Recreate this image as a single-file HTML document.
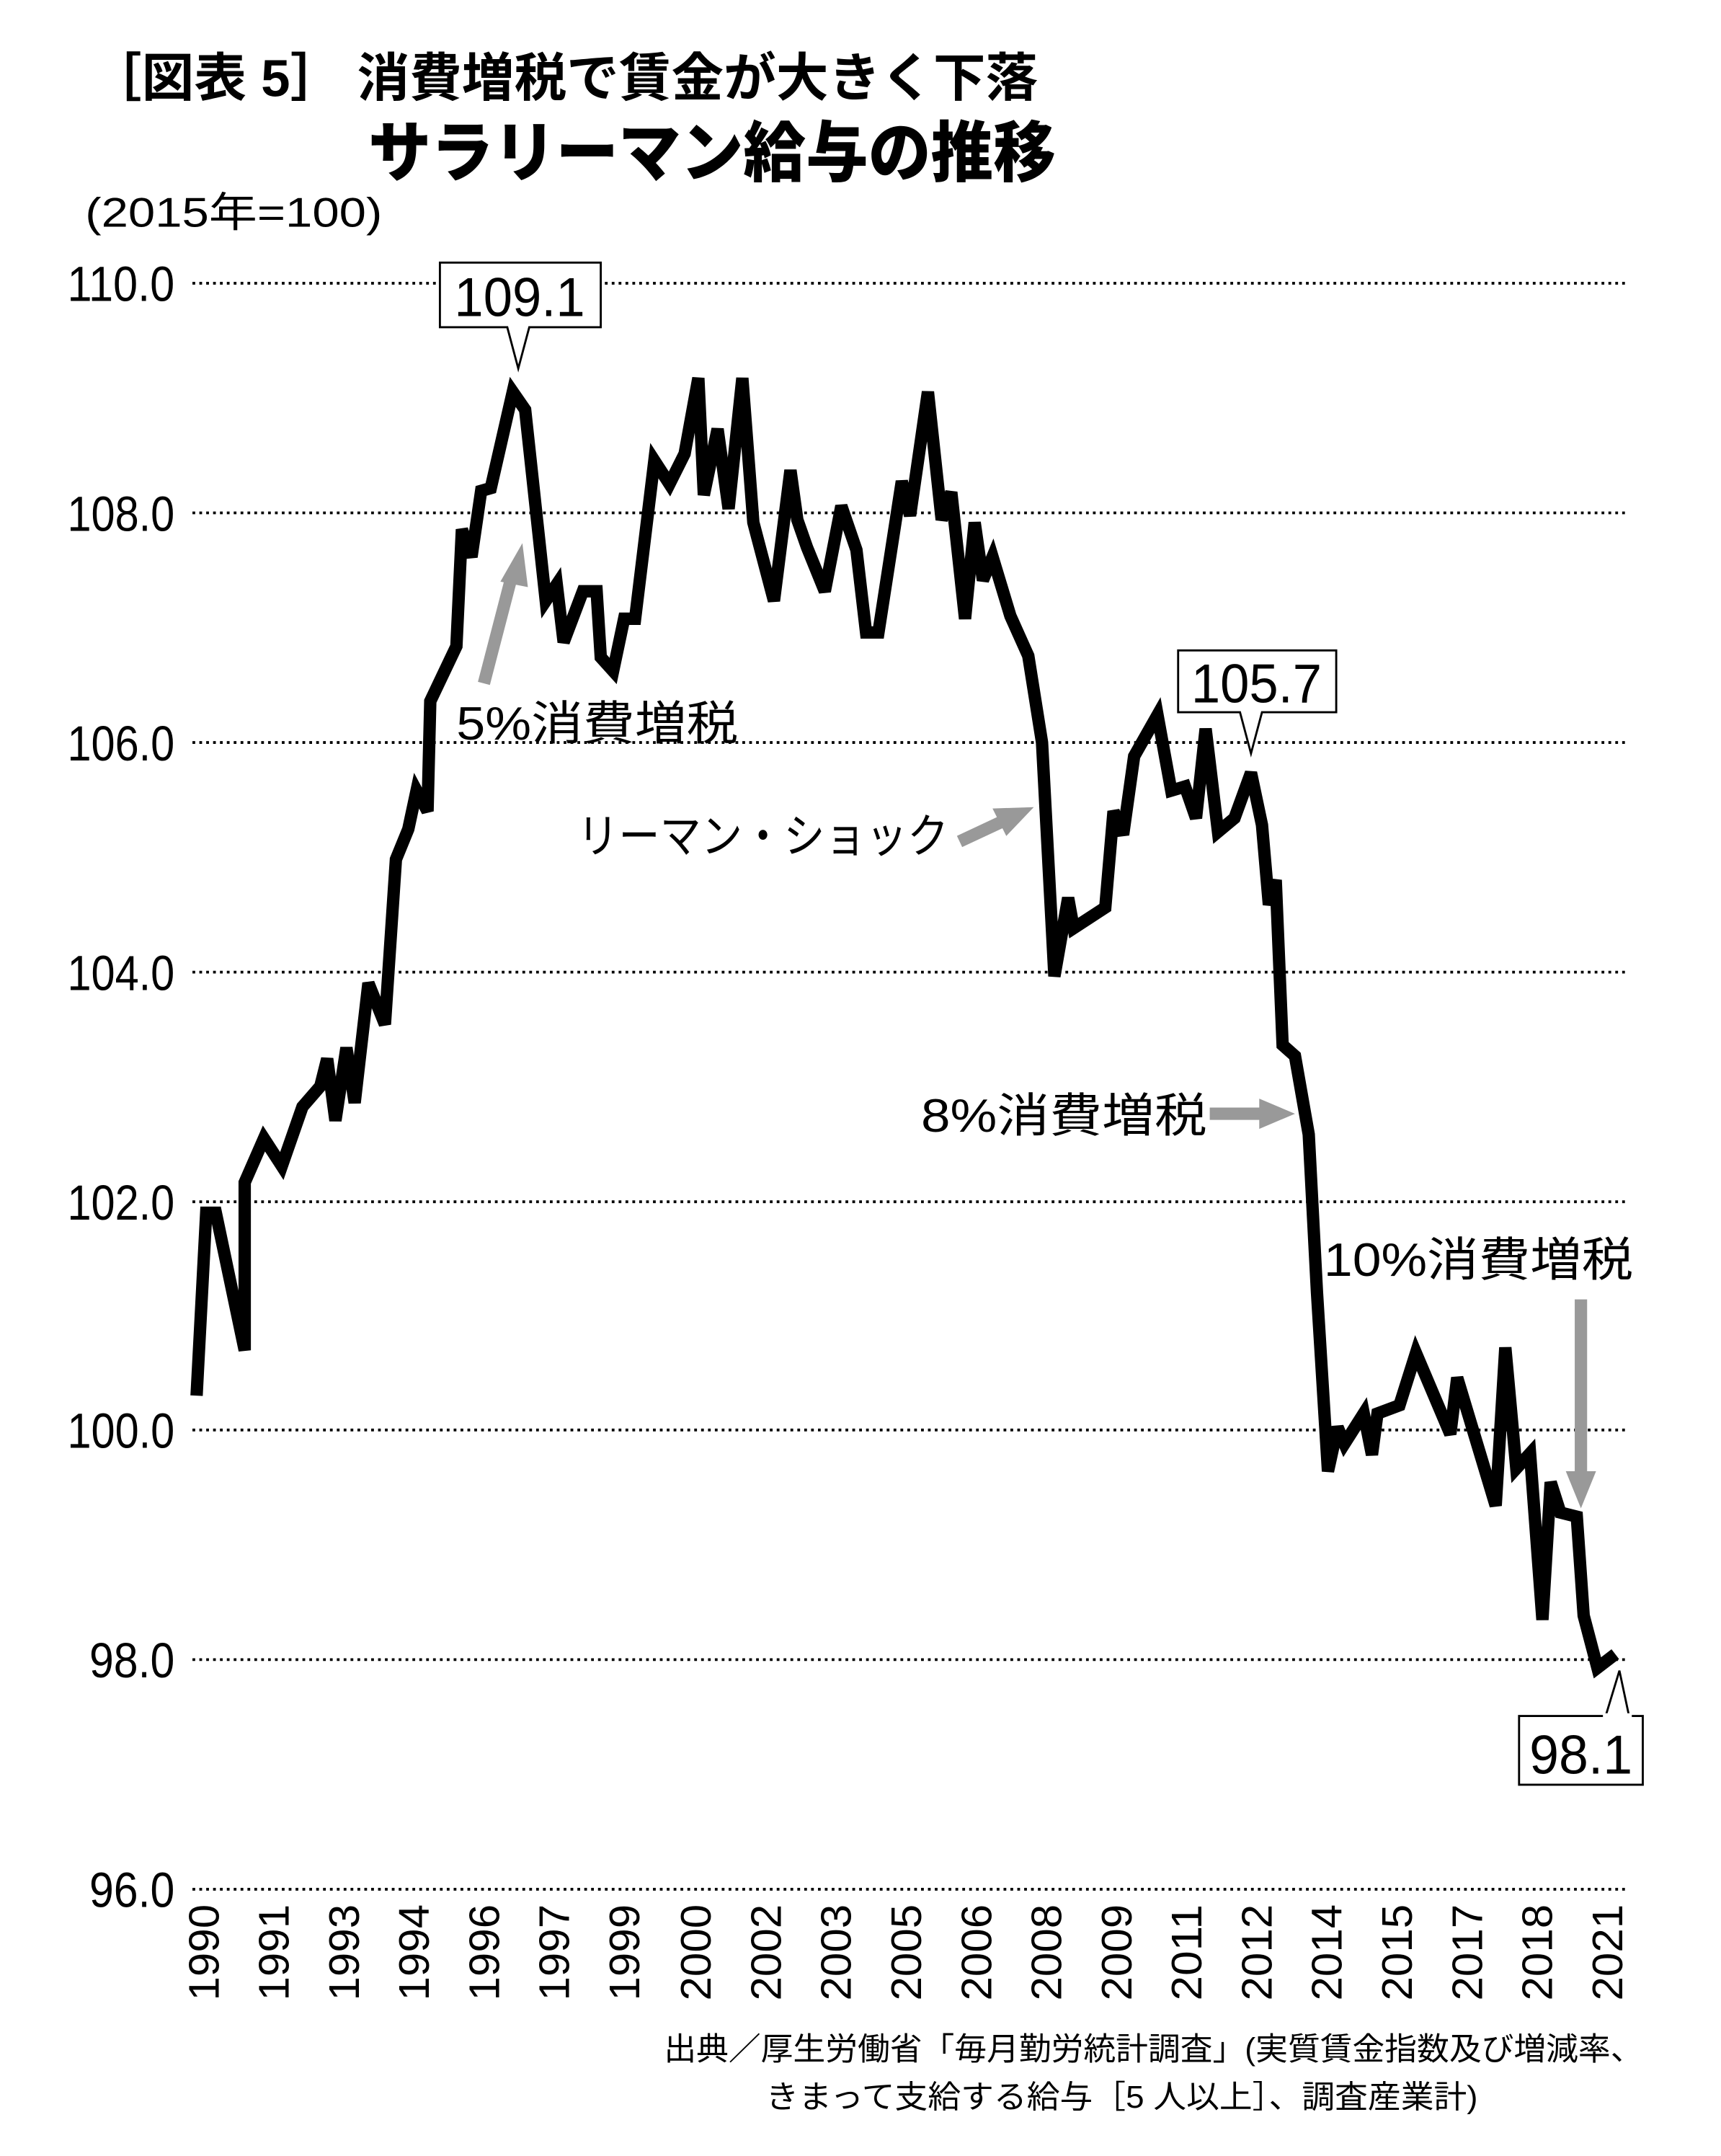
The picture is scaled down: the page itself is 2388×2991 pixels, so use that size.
<!DOCTYPE html>
<html><head><meta charset="utf-8"><style>html,body{margin:0;padding:0;background:#fff}svg{display:block}</style></head>
<body>
<svg xmlns="http://www.w3.org/2000/svg" width="2388" height="2991" viewBox="0 0 1240 1553.1" preserveAspectRatio="none" font-family="'Liberation Sans','Noto Sans CJK JP',sans-serif">
<rect width="1240" height="1553.1" fill="#fff"/>
<g transform="scale(0.9905)">
<text x="65" y="70" font-size="38" font-weight="bold" textLength="690" lengthAdjust="spacingAndGlyphs">［図表 5］ 消費増税で賃金が大きく下落</text>
<text x="268" y="128" font-size="48" font-weight="900" textLength="500" lengthAdjust="spacingAndGlyphs">サラリーマン給与の推移</text>
<text x="62" y="165" font-size="30" textLength="216" lengthAdjust="spacingAndGlyphs">(2015年=100)</text>
<g stroke="#000" stroke-width="2" stroke-dasharray="2 3">
<line x1="140" y1="206" x2="1185" y2="206"/><line x1="140" y1="373" x2="1185" y2="373"/><line x1="140" y1="540" x2="1185" y2="540"/><line x1="140" y1="707" x2="1185" y2="707"/><line x1="140" y1="874" x2="1185" y2="874"/><line x1="140" y1="1040" x2="1185" y2="1040"/><line x1="140" y1="1207" x2="1185" y2="1207"/><line x1="140" y1="1374" x2="1185" y2="1374"/>
</g>
<g font-size="36" text-anchor="end">
<text x="127" y="219" textLength="78" lengthAdjust="spacingAndGlyphs">110.0</text>
<text x="127" y="386" textLength="78" lengthAdjust="spacingAndGlyphs">108.0</text>
<text x="127" y="553" textLength="78" lengthAdjust="spacingAndGlyphs">106.0</text>
<text x="127" y="720" textLength="78" lengthAdjust="spacingAndGlyphs">104.0</text>
<text x="127" y="887" textLength="78" lengthAdjust="spacingAndGlyphs">102.0</text>
<text x="127" y="1053" textLength="78" lengthAdjust="spacingAndGlyphs">100.0</text>
<text x="127" y="1220" textLength="62" lengthAdjust="spacingAndGlyphs">98.0</text>
<text x="127" y="1387" textLength="62" lengthAdjust="spacingAndGlyphs">96.0</text>
</g>
<g font-size="31" text-anchor="end">
<text transform="translate(159,1385) rotate(-90)" textLength="70" lengthAdjust="spacingAndGlyphs">1990</text>
<text transform="translate(210,1385) rotate(-90)" textLength="70" lengthAdjust="spacingAndGlyphs">1991</text>
<text transform="translate(261,1385) rotate(-90)" textLength="70" lengthAdjust="spacingAndGlyphs">1993</text>
<text transform="translate(312,1385) rotate(-90)" textLength="70" lengthAdjust="spacingAndGlyphs">1994</text>
<text transform="translate(363,1385) rotate(-90)" textLength="70" lengthAdjust="spacingAndGlyphs">1996</text>
<text transform="translate(414,1385) rotate(-90)" textLength="70" lengthAdjust="spacingAndGlyphs">1997</text>
<text transform="translate(465,1385) rotate(-90)" textLength="70" lengthAdjust="spacingAndGlyphs">1999</text>
<text transform="translate(517,1385) rotate(-90)" textLength="70" lengthAdjust="spacingAndGlyphs">2000</text>
<text transform="translate(568,1385) rotate(-90)" textLength="70" lengthAdjust="spacingAndGlyphs">2002</text>
<text transform="translate(619,1385) rotate(-90)" textLength="70" lengthAdjust="spacingAndGlyphs">2003</text>
<text transform="translate(670,1385) rotate(-90)" textLength="70" lengthAdjust="spacingAndGlyphs">2005</text>
<text transform="translate(721,1385) rotate(-90)" textLength="70" lengthAdjust="spacingAndGlyphs">2006</text>
<text transform="translate(772,1385) rotate(-90)" textLength="70" lengthAdjust="spacingAndGlyphs">2008</text>
<text transform="translate(823,1385) rotate(-90)" textLength="70" lengthAdjust="spacingAndGlyphs">2009</text>
<text transform="translate(874,1385) rotate(-90)" textLength="70" lengthAdjust="spacingAndGlyphs">2011</text>
<text transform="translate(925,1385) rotate(-90)" textLength="70" lengthAdjust="spacingAndGlyphs">2012</text>
<text transform="translate(976,1385) rotate(-90)" textLength="70" lengthAdjust="spacingAndGlyphs">2014</text>
<text transform="translate(1027,1385) rotate(-90)" textLength="70" lengthAdjust="spacingAndGlyphs">2015</text>
<text transform="translate(1078,1385) rotate(-90)" textLength="70" lengthAdjust="spacingAndGlyphs">2017</text>
<text transform="translate(1129,1385) rotate(-90)" textLength="70" lengthAdjust="spacingAndGlyphs">2018</text>
<text transform="translate(1180,1385) rotate(-90)" textLength="70" lengthAdjust="spacingAndGlyphs">2021</text>
</g>
<polyline fill="none" stroke="#000" stroke-width="9" stroke-linejoin="miter" stroke-miterlimit="3" points="143,1015 150,882 157,882 178,982 178,860 192,828 205,848 220,805 233,790 238,770 244,815 252,762 258,802 268,715 280,745 288,625 297,603 303,575 311,590 313,510 332,470 336,385 343,405 350,357 357,355 373,285 382,298 397,437 405,425 410,467 424,430 434,430 437,478 446,488 454,450 462,450 476,335 487,352 498,330 508,275 512,360 522,312 530,370 540,275 548,380 563,437 575,342 580,378 587,398 600,430 612,368 623,400 630,460 639,460 656,350 662,375 675,285 685,378 692,358 702,450 709,380 715,422 722,405 735,448 748,477 758,540 767,710 777,653 781,675 804,660 810,590 817,607 825,550 842,520 852,575 862,572 870,595 877,530 886,605 898,595 910,562 918,600 923,658 928,640 933,760 942,768 952,825 958,940 966,1070 973,1038 978,1050 992,1028 998,1058 1002,1028 1018,1022 1030,984 1055,1043 1060,1002 1088,1095 1095,980 1103,1068 1113,1057 1122,1178 1128,1078 1135,1100 1147,1103 1152,1175 1162,1213 1175,1203"/>
<g fill="#fff" stroke="#000" stroke-width="1.5">
<path d="M320,191 H437 V238 H385 L377,268 L369,238 H320 Z"/>
<path d="M857,473 H972 V518 H918 L910,548 L902,518 H857 Z"/>
<path d="M1105,1248 H1195 V1298 H1105 Z M1168,1248 L1178,1215 L1185,1248"/>
</g>
<rect x="1166" y="1246" width="21" height="4" fill="#fff"/>
<g font-size="40" text-anchor="middle">
<text x="378" y="230" textLength="95" lengthAdjust="spacingAndGlyphs">109.1</text>
<text x="914" y="511" textLength="95" lengthAdjust="spacingAndGlyphs">105.7</text>
<text x="1150" y="1290" textLength="75" lengthAdjust="spacingAndGlyphs">98.1</text>
</g>
<g fill="#999" stroke="#999">
<line x1="352" y1="497" x2="372" y2="420" stroke-width="9"/><polygon points="380,395 364,423 384,427" stroke="none"/>
<line x1="698" y1="612" x2="730" y2="597" stroke-width="9"/><polygon points="752,587 722,588 732,608" stroke="none"/>
<line x1="880" y1="810" x2="918" y2="810" stroke-width="9"/><polygon points="942,810 916,799 916,821" stroke="none"/>
<line x1="1150" y1="945" x2="1150" y2="1072" stroke-width="9"/><polygon points="1150,1097 1139,1070 1161,1070" stroke="none"/>
</g>
<g font-size="34">
<text x="332" y="538" textLength="205" lengthAdjust="spacingAndGlyphs">5%消費増税</text>
<text x="420" y="620" textLength="270" lengthAdjust="spacingAndGlyphs">リーマン・ショック</text>
<text x="670" y="823" textLength="208" lengthAdjust="spacingAndGlyphs">8%消費増税</text>
<text x="963" y="928" textLength="225" lengthAdjust="spacingAndGlyphs">10%消費増税</text>
</g>
<g font-size="23">
<text x="483" y="1498" textLength="712" lengthAdjust="spacingAndGlyphs">出典／厚生労働省「毎月勤労統計調査」(実質賃金指数及び増減率、</text>
<text x="557" y="1533" textLength="518" lengthAdjust="spacingAndGlyphs">きまって支給する給与［5 人以上］、調査産業計)</text>
</g>
</g>
</svg>
</body></html>
